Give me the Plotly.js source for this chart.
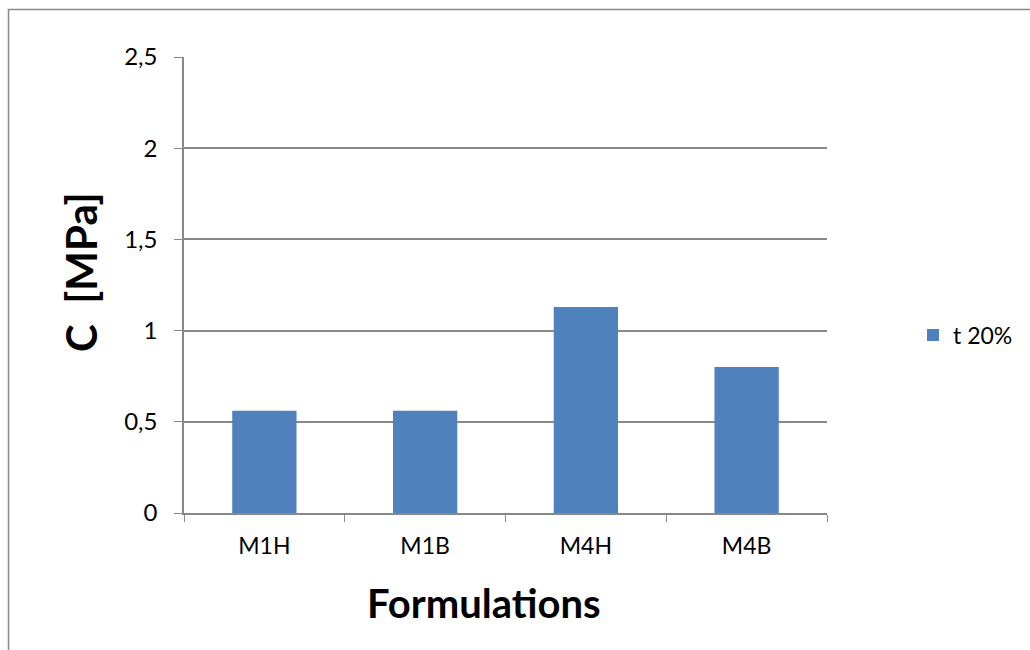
<!DOCTYPE html>
<html><head><meta charset="utf-8">
<script src="https://cdn.plot.ly/plotly-3.0.1.min.js"></script>
<style>body{margin:0;background:#fff}#c{width:1030px;height:650px}</style>
</head><body><div id="c"></div>
<script>
const categories = ["M1H", "M1B", "M4H", "M4B"];
const values = [0.56, 0.56, 1.13, 0.80];
const seriesName = "t 20%";
const yTicks = [0, 0.5, 1, 1.5, 2, 2.5];

const L = 184, R = 203, T = 57, B = 137, W = 1030, H = 650;
const pw = W - L - R, ph = H - T - B;
const px = v => (v - L) / pw;
const py = v => (H - B - v) / ph;

const data = [{
  type: "bar", x: categories, y: values, name: seriesName,
  marker: {color: "#4f81bd"}, showlegend: true
}];
const layout = {
  width: W, height: H, separators: ", ",
  margin: {l: L, r: R, t: T, b: B},
  paper_bgcolor: "#fff", plot_bgcolor: "#fff",
  font: {family: "Lato, 'Open Sans', sans-serif", color: "#000"},
  bargap: 0.6,
  showlegend: true,
  legend: {x: px(913), y: py(335), xanchor: "left", yanchor: "middle", font: {size: 23}},
  xaxis: {type: "category", showline: true, linecolor: "#888", linewidth: 1.5,
    ticks: "outside", tickson: "boundaries", ticklen: 7, tickcolor: "#888",
    ticklabelstandoff: 12,
    tickfont: {size: 23}, showgrid: false},
  yaxis: {range: [0, 2.5], tickvals: yTicks, ticks: "outside", ticklen: 8, tickcolor: "#888",
    ticklabelstandoff: 12,
    showline: true, linecolor: "#888", linewidth: 1.5, gridcolor: "#888", gridwidth: 1.5,
    tickfont: {size: 24}, zeroline: false},
  annotations: [
    {text: "<b>Formulations</b>", xref: "paper", yref: "paper", x: px(484), y: py(603),
     xanchor: "center", yanchor: "middle", showarrow: false, font: {size: 40}},
    {text: "<b>C&nbsp;&nbsp;[MPa]</b>", xref: "paper", yref: "paper", x: px(81), y: py(272),
     xanchor: "center", yanchor: "middle", textangle: -90, showarrow: false, font: {size: 42}}
  ],
  shapes: [{type: "rect", xref: "paper", yref: "paper",
    x0: px(8.5), x1: px(1040), y0: py(9.5), y1: py(660),
    line: {color: "#888", width: 1.5}}]
};
Plotly.newPlot("c", data, layout, {displayModeBar: false});
</script></body></html>
